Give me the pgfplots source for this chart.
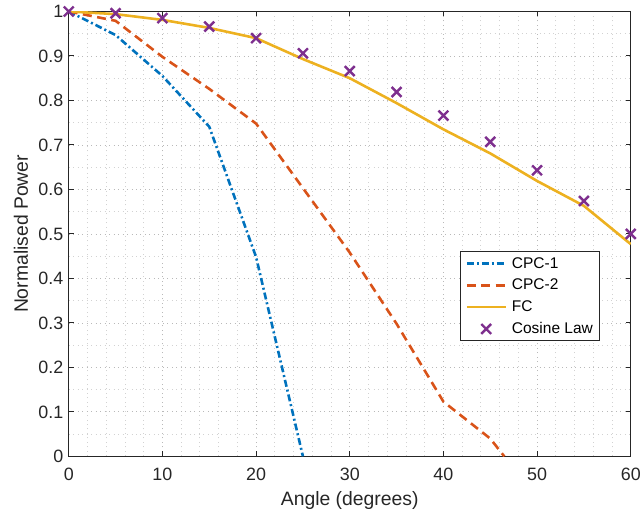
\documentclass[border=0pt]{standalone}
\usepackage{fontspec}
\setmainfont{Liberation Sans}
\usepackage{pgfplots}
\pgfplotsset{compat=1.18}

\definecolor{mblue}{RGB}{0,114,189}
\definecolor{morange}{RGB}{217,83,25}
\definecolor{myellow}{RGB}{237,177,32}
\definecolor{mpurple}{RGB}{126,47,142}
\definecolor{axgray}{RGB}{38,38,38}

\pgfplotsset{
  linelegend/.style={legend image code/.code={\draw[##1] (0bp,0bp) -- (39bp,0bp);}},
  marklegend/.style={legend image code/.code={\draw[##1] plot coordinates {(19.5bp,0bp)};}},
}

\begin{document}
\begin{tikzpicture}
  \begin{axis}[
      scale only axis,
      width=564bp, height=446.5bp,
      xmin=0, xmax=60, ymin=0, ymax=1,
      xtick={0,10,...,60},
      ytick={0,0.1,...,1},
      yticklabels={0,0.1,0.2,0.3,0.4,0.5,0.6,0.7,0.8,0.9,1},
      minor x tick num=4,
      minor y tick num=1,
      minor tick length=0pt,
      major tick length=5bp,
      tick align=inside,
      axis line style={axgray, line width=0.9bp},
      every tick/.style={axgray, line width=0.9bp},
      grid=both,
      major grid style={gray!55, line width=0.8bp, dash pattern=on 1bp off 3.5bp},
      minor grid style={gray!35, line width=0.8bp, dash pattern=on 1bp off 3.5bp},
      /pgf/number format/assume math mode=true,
      tick label style={font=\fontsize{18}{20}\selectfont, text=axgray},
      xticklabel style={yshift=-8bp},
      yticklabel style={xshift=-2bp},
      label style={font=\fontsize{19.5}{22}\selectfont, text=axgray},
      xlabel={Angle (degrees)},
      ylabel={Normalised Power},
      xlabel style={at={(axis description cs:0.5,-0.1097)}, anchor=base},
      ylabel style={at={(axis description cs:-0.0727,0.5)}, anchor=base},
      legend cell align=left,
      legend style={
        at={(0.6963,0.4607)}, anchor=north west,
        draw=axgray, line width=0.9bp,
        font=\fontsize{15.6}{18}\selectfont,
        inner xsep=5bp, inner ysep=3.5bp, row sep=5.5bp,
        /tikz/every odd column/.append style={column sep=3bp},
      },
      linelegend,
    ]
    \addplot[mblue, line width=2.6bp, dash pattern=on 7bp off 3bp on 2bp off 3bp]
      coordinates {(0,1) (5,0.947) (10,0.855) (15,0.741) (20,0.448) (25,0)};
    \addplot[morange, line width=2.6bp, dash pattern=on 9bp off 5.5bp]
      coordinates {(0,1) (5,0.979) (10,0.898) (15,0.826) (20,0.748) (25,0.603)
                   (30,0.458) (35,0.298) (40,0.123) (45,0.040) (46.5,0)};
    \addplot[myellow, line width=2.6bp]
      coordinates {(0,1) (5,0.994) (10,0.981) (15,0.963) (20,0.940) (25,0.893)
                   (30,0.850) (35,0.794) (40,0.735) (45,0.681) (50,0.619)
                   (55,0.563) (60,0.477)};
    \addplot[only marks, mpurple, mark=x, mark size=7bp, line width=2.4bp,
        mark options={line width=2.4bp}, marklegend]
      coordinates {(0,1) (5,0.996) (10,0.985) (15,0.966) (20,0.940) (25,0.906)
                   (30,0.866) (35,0.819) (40,0.766) (45,0.707) (50,0.643)
                   (55,0.574) (60,0.5)};
    \legend{CPC-1, CPC-2, FC, Cosine Law}
  \end{axis}
  \path ([shift={(-69bp,-64bp)}]current axis.south west) rectangle ([shift={(11bp,11.5bp)}]current axis.north east);
\end{tikzpicture}
\end{document}
